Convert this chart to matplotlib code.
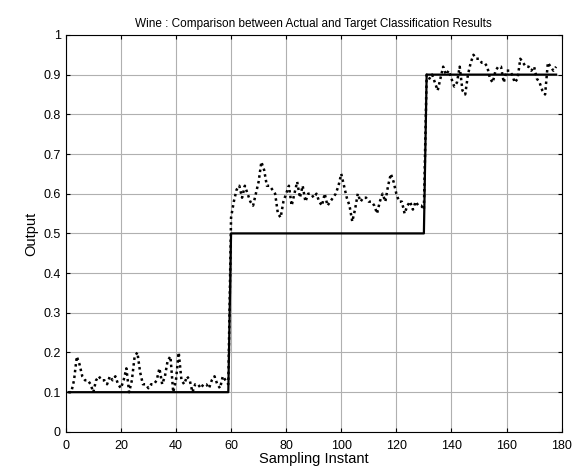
import numpy as np
import matplotlib
matplotlib.use("Agg")
import matplotlib.pyplot as plt

plt.rcParams['font.family'] = ['Liberation Sans', 'DejaVu Sans']

# actual network output, one value per sample (Wine data: 59 / 71 / 48 samples)
actual_c1 = [0.10, 0.10, 0.13, 0.19, 0.17, 0.14, 0.13, 0.13, 0.12, 0.10,
             0.13, 0.14, 0.13, 0.13, 0.12, 0.14, 0.13, 0.14, 0.12, 0.11,
             0.13, 0.16, 0.10, 0.13, 0.19, 0.20, 0.15, 0.12, 0.12, 0.11,
             0.12, 0.12, 0.13, 0.16, 0.12, 0.14, 0.18, 0.19, 0.10, 0.13,
             0.20, 0.13, 0.12, 0.14, 0.13, 0.10, 0.12, 0.12, 0.11, 0.12,
             0.12, 0.11, 0.13, 0.14, 0.12, 0.11, 0.14, 0.13, 0.12]
actual_c2 = [0.54, 0.58, 0.61, 0.62, 0.59, 0.62, 0.60, 0.58, 0.57, 0.60,
             0.63, 0.68, 0.66, 0.62, 0.62, 0.61, 0.60, 0.55, 0.54, 0.58,
             0.60, 0.62, 0.57, 0.60, 0.63, 0.59, 0.62, 0.58, 0.60, 0.60,
             0.59, 0.60, 0.58, 0.57, 0.60, 0.57, 0.58, 0.59, 0.60, 0.62,
             0.65, 0.62, 0.59, 0.57, 0.53, 0.56, 0.60, 0.58, 0.59, 0.59,
             0.58, 0.58, 0.57, 0.55, 0.58, 0.60, 0.58, 0.62, 0.65, 0.63,
             0.60, 0.58, 0.58, 0.55, 0.57, 0.58, 0.56, 0.58, 0.57, 0.57,
             0.56]
actual_c3 = [0.90, 0.89, 0.90, 0.88, 0.86, 0.89, 0.92, 0.90, 0.91, 0.89,
             0.87, 0.88, 0.92, 0.86, 0.85, 0.90, 0.93, 0.95, 0.94, 0.94,
             0.93, 0.93, 0.92, 0.89, 0.88, 0.91, 0.92, 0.92, 0.88, 0.91,
             0.91, 0.90, 0.88, 0.89, 0.94, 0.93, 0.92, 0.92, 0.91, 0.92,
             0.89, 0.88, 0.86, 0.85, 0.93, 0.92, 0.91, 0.92]

# target output per class
target_levels = [0.1, 0.5, 0.9]

actual = np.array(actual_c1 + actual_c2 + actual_c3)
target = np.concatenate([np.full(len(c), t) for c, t in
                         zip([actual_c1, actual_c2, actual_c3], target_levels)])
x = np.arange(1, len(actual) + 1)

fig = plt.figure(figsize=(5.82, 4.72), dpi=100)
ax = fig.add_axes([0.113, 0.085, 0.852, 0.841])

ax.plot(x, target, color='black', linewidth=1.6, linestyle='-')
ax.plot(x, actual, color='black', linewidth=1.8, linestyle=(0, (1, 1.3)))

ax.set_xlim(0, 180)
ax.set_ylim(0, 1)
ax.set_xticks(np.arange(0, 181, 20))
ax.set_yticks(np.arange(0, 1.01, 0.1))
ax.set_yticklabels(['0', '0.1', '0.2', '0.3', '0.4', '0.5', '0.6', '0.7', '0.8', '0.9', '1'])
ax.grid(True, color='#b0b0b0', linewidth=0.8)
ax.set_axisbelow(True)
ax.tick_params(direction='in', top=True, right=True, labelsize=9, length=3)
ax.tick_params(axis='x', pad=6)
for s in ax.spines.values():
    s.set_linewidth(0.8)

ax.set_xlabel('Sampling Instant', fontsize=10.5, labelpad=0)
ax.set_ylabel('Output', fontsize=10.5, labelpad=4)
ax.set_title('Wine : Comparison between Actual and Target Classification Results', fontsize=8.5, pad=6)

fig.savefig('out.png', dpi=100)
